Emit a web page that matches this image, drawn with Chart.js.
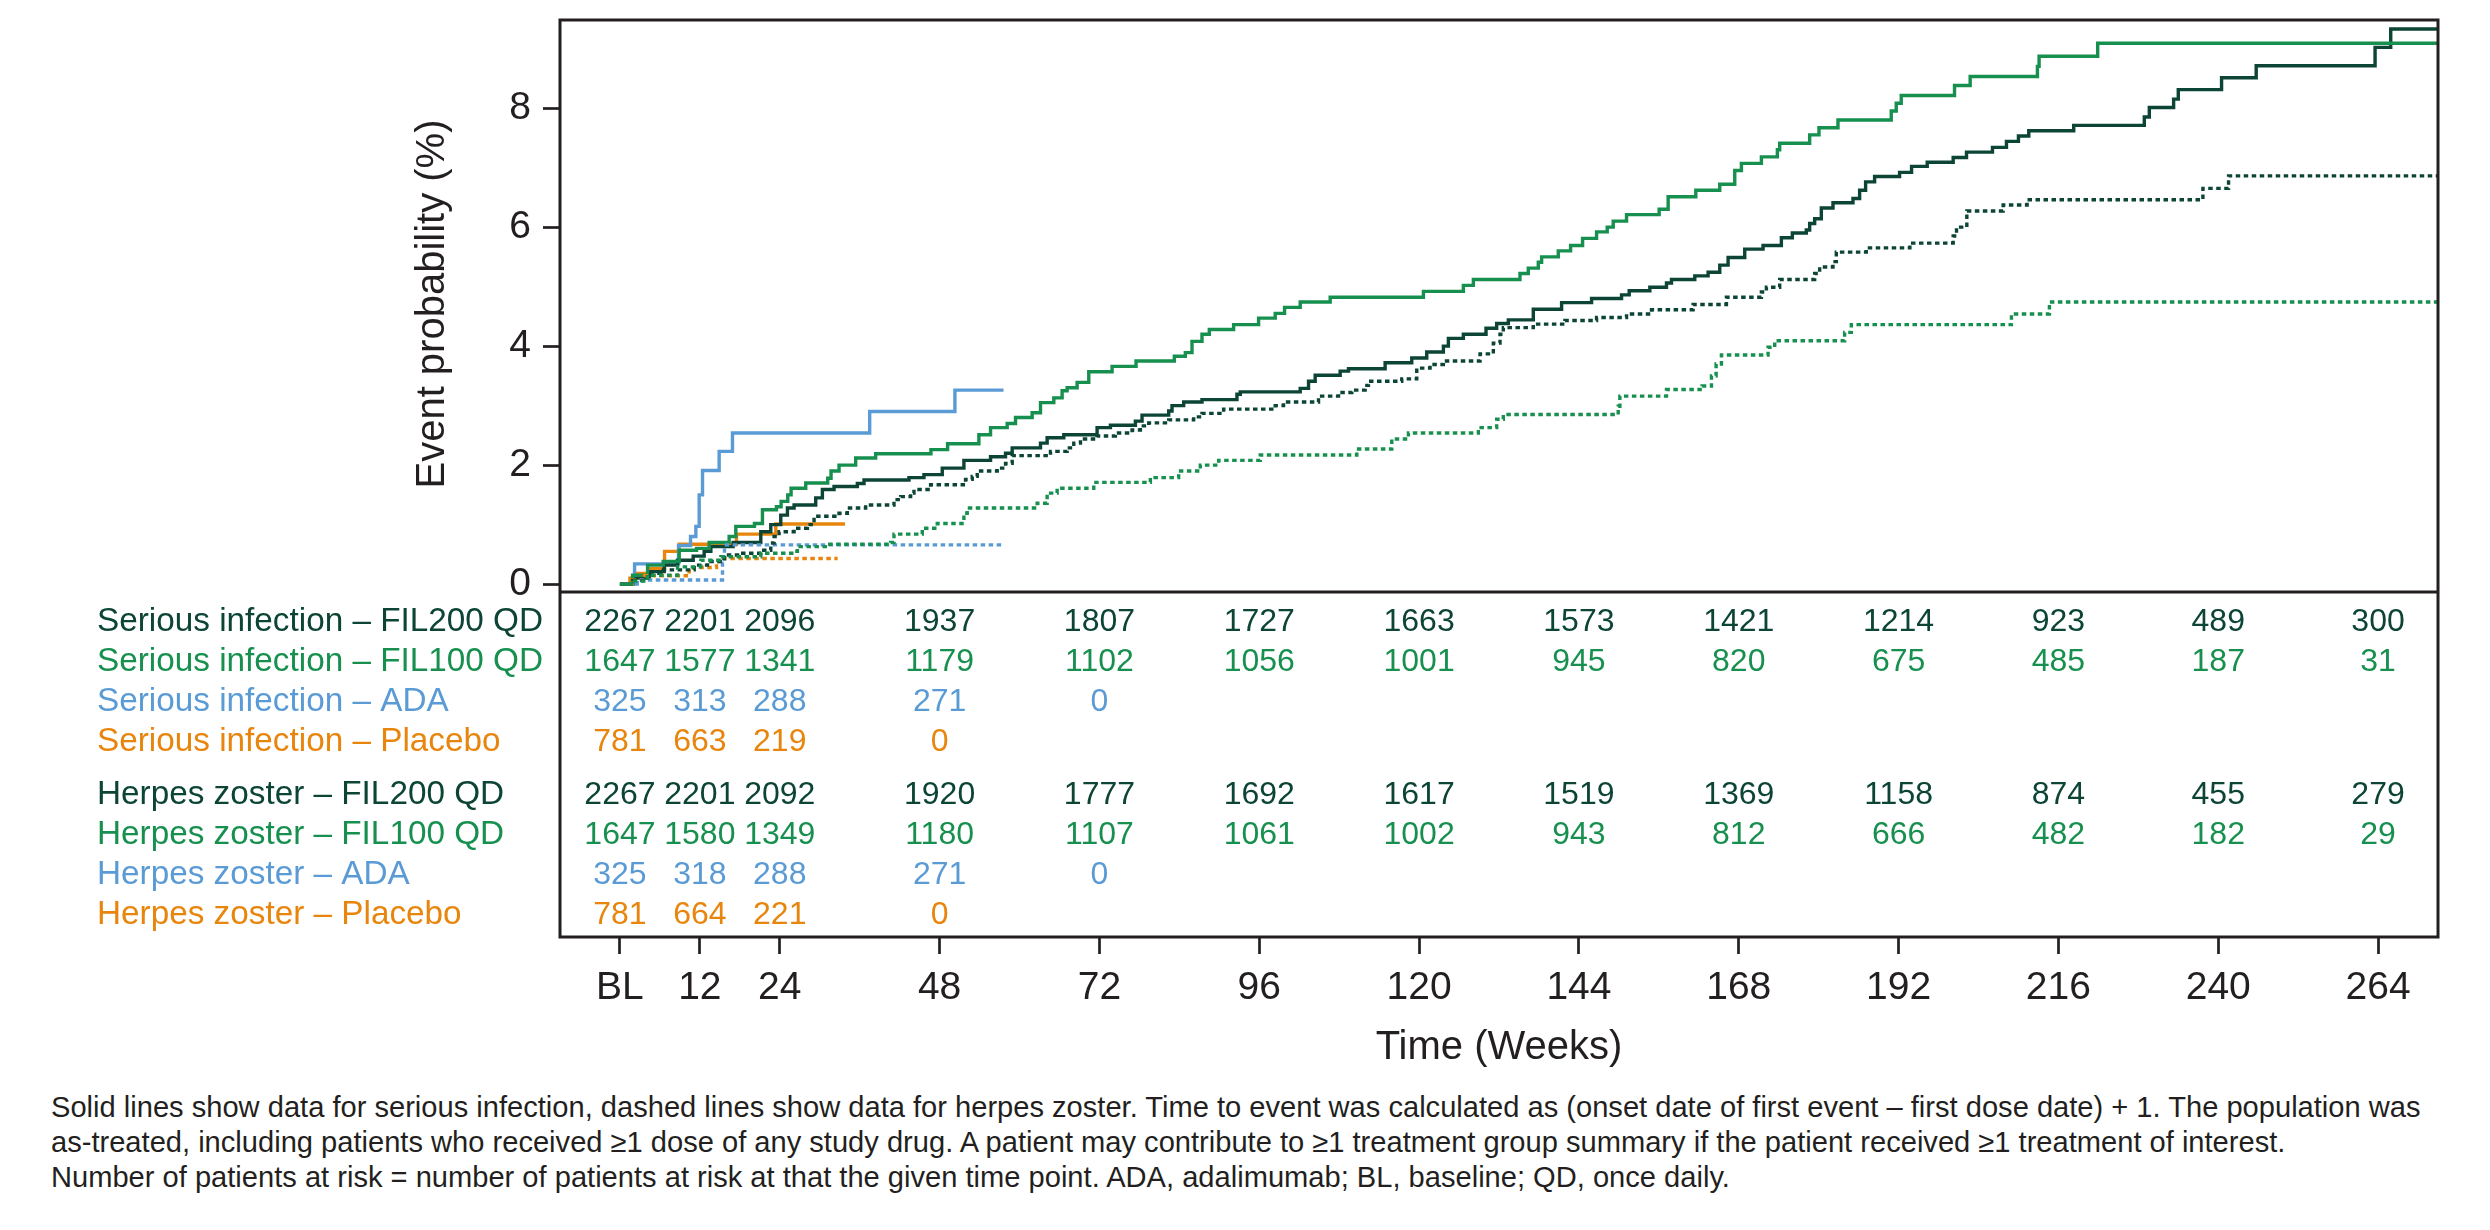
<!DOCTYPE html>
<html lang="en">
<head>
<meta charset="utf-8">
<title>Serious infection and herpes zoster – event probability</title>
<script src="https://cdn.jsdelivr.net/npm/chart.js@4.4.1/dist/chart.umd.min.js"></script>
<style>
  html, body { margin: 0; padding: 0; background: #fff; }
  #wrap { position: relative; width: 2490px; height: 1080px; }
  #footnote {
    font-family: "Liberation Sans", Arial, sans-serif;
    font-size: 29.1px;
    line-height: 35px;
    color: #231f20;
    padding: 10px 0 0 51px;
    white-space: nowrap;
  }
</style>
</head>
<body>
<div id="wrap"><canvas id="kmChart"></canvas></div>
<div id="footnote">
Solid lines show data for serious infection, dashed lines show data for herpes zoster. Time to event was calculated as (onset date of first event – first dose date) + 1. The population was<br>
as-treated, including patients who received ≥1 dose of any study drug. A patient may contribute to ≥1 treatment group summary if the patient received ≥1 treatment of interest.<br>
Number of patients at risk = number of patients at risk at that the given time point. ADA, adalimumab; BL, baseline; QD, once daily.
</div>
<script>
// --- 1. DATA ---
// x-axis ticks (weeks) and their labels
const weekTicks = [0, 12, 24, 48, 72, 96, 120, 144, 168, 192, 216, 240, 264];
const weekTickLabels = ['BL', '12', '24', '48', '72', '96', '120', '144', '168', '192', '216', '240', '264'];
const probTicks = [0, 2, 4, 6, 8];

// Kaplan-Meier curves: [week, event probability %]
const siFil200 = [[0,0],[1.9,0.1],[4.4,0.21],[6.65,0.32],[8.65,0.4],[11,0.47],[12.65,0.55],[13.65,0.63],[17,0.7],[21.15,0.88],[22.65,1.0],[24.15,1.16],[25.15,1.28],[26.15,1.33],[29.4,1.45],[30.4,1.59],[32.15,1.64],[35.65,1.69],[36.65,1.75],[43.4,1.79],[45.65,1.84],[48.4,1.95],[51.65,2.08],[55.65,2.14],[57.9,2.2],[58.9,2.29],[63.15,2.37],[64.15,2.46],[66.65,2.51],[71.65,2.63],[73.65,2.67],[77.4,2.74],[78.4,2.84],[82.4,2.91],[82.9,3.0],[84.65,3.06],[87.4,3.1],[92.65,3.19],[93.15,3.23],[102.15,3.29],[103.4,3.41],[104.4,3.51],[108.15,3.58],[109.4,3.62],[114.9,3.72],[118.9,3.8],[121.15,3.9],[123.65,4.0],[124.4,4.13],[126.65,4.2],[130.05,4.3],[131.65,4.38],[133.4,4.44],[137.15,4.62],[141.4,4.73],[145.9,4.8],[150.4,4.86],[151.55,4.93],[154.65,4.99],[157.15,5.06],[157.9,5.12],[161.4,5.18],[163.4,5.24],[165.15,5.36],[166.4,5.49],[168.9,5.63],[171.65,5.69],[174.4,5.82],[176.05,5.9],[178.15,5.95],[178.65,6.06],[179.4,6.14],[180.4,6.32],[182.15,6.41],[185.15,6.48],[186.15,6.62],[187.05,6.76],[188.4,6.85],[192.15,6.92],[193.95,7.02],[196.3,7.09],[200.2,7.17],[202.2,7.26],[206.1,7.34],[208.2,7.44],[210.0,7.53],[211.55,7.62],[218.3,7.71],[228.9,7.85],[229.65,8.01],[233.3,8.15],[234.0,8.31],[240.5,8.51],[245.7,8.71],[263.55,9.02],[265.9,9.33],[273,9.33]];
const siFil100 = [[0,0],[1.9,0.15],[4.15,0.32],[6.5,0.38],[8.9,0.57],[11.5,0.6],[13.4,0.7],[16.4,0.8],[17.4,0.97],[20.2,1.02],[21.4,1.25],[23.5,1.3],[24.2,1.39],[25.2,1.5],[25.7,1.61],[27.9,1.7],[31.2,1.78],[31.7,1.9],[32.9,2.0],[35.4,2.12],[38.4,2.19],[46.7,2.26],[49.2,2.36],[53.9,2.51],[55.65,2.63],[58.15,2.7],[59.4,2.8],[61.9,2.88],[63.15,3.05],[65.15,3.13],[66.4,3.25],[67.15,3.3],[68.65,3.39],[70.4,3.57],[73.9,3.66],[77.5,3.75],[83.25,3.83],[84.9,3.89],[85.9,4.08],[87.4,4.2],[88.5,4.28],[92.15,4.36],[95.9,4.47],[98.4,4.55],[99.8,4.65],[102.15,4.74],[106.65,4.82],[120.65,4.92],[126.65,5.02],[128.15,5.12],[135.15,5.22],[136.4,5.31],[137.9,5.41],[138.4,5.5],[140.9,5.6],[142.75,5.69],[144.55,5.81],[146.65,5.92],[148.25,6.0],[149.15,6.1],[151.15,6.21],[156.05,6.3],[157.4,6.51],[161.55,6.62],[165.15,6.72],[167.4,6.95],[168.4,7.07],[171.4,7.18],[173.8,7.3],[174.15,7.41],[178.65,7.55],[180.05,7.67],[182.9,7.8],[190.9,7.95],[191.65,8.08],[192.4,8.21],[200.4,8.38],[202.75,8.53],[212.85,8.7],[213.1,8.87],[221.9,9.09],[273,9.09]];
const siAda = [[0,0],[2.2,0.34],[8.8,0.65],[10.6,0.8],[11.4,0.97],[11.9,1.5],[12.4,1.91],[14.9,2.23],[16.9,2.54],[37.5,2.9],[50.3,3.26],[57.6,3.26]];
const siPlacebo = [[0,0],[1.5,0.1],[2.2,0.18],[4.4,0.26],[6.7,0.55],[8.9,0.67],[17.5,0.84],[23.4,1.01],[33.8,1.01]];
const hzFil200 = [[0,0],[1.9,0.06],[4.15,0.18],[6.15,0.24],[11.15,0.32],[13.15,0.38],[15.65,0.49],[18.15,0.52],[21.15,0.57],[22.65,0.69],[23.15,0.8],[23.9,0.88],[26.15,0.94],[28.15,1.0],[29.15,1.14],[32.9,1.19],[34.15,1.28],[36.9,1.33],[41.15,1.42],[42.15,1.47],[43.65,1.53],[44.15,1.59],[46.65,1.67],[51.9,1.76],[52.9,1.81],[53.65,1.9],[56.65,1.95],[57.9,2.03],[58.9,2.16],[64.65,2.23],[67.15,2.29],[68.15,2.37],[69.15,2.44],[71.65,2.49],[74.4,2.54],[76.9,2.59],[78.15,2.66],[79.4,2.71],[82.4,2.76],[86.15,2.81],[87.4,2.87],[90.65,2.94],[98.4,3.0],[99.65,3.06],[104.9,3.16],[107.9,3.22],[109.9,3.26],[111.9,3.34],[112.4,3.41],[117.4,3.45],[119.65,3.63],[121.65,3.69],[123.65,3.75],[129.15,3.87],[131.15,4.05],[132.15,4.2],[132.65,4.31],[137.15,4.37],[141.9,4.43],[146.65,4.48],[151.15,4.54],[154.9,4.61],[161.15,4.7],[166.15,4.82],[171.4,4.91],[172.15,4.99],[174.15,5.12],[179.4,5.22],[180.15,5.33],[182.15,5.42],[182.65,5.58],[187.15,5.65],[193.7,5.73],[200.2,5.85],[200.7,6.0],[202.25,6.27],[207.7,6.37],[211.3,6.46],[237.7,6.65],[241.55,6.86],[273,6.86]];
const hzFil100 = [[0,0],[1.9,0.05],[4.15,0.15],[8.65,0.29],[12.15,0.4],[15.15,0.46],[21.15,0.52],[26.15,0.55],[26.65,0.63],[31.15,0.67],[40.65,0.7],[41.15,0.84],[45.4,0.94],[47.65,1.02],[51.65,1.19],[52.15,1.28],[62.65,1.36],[64.15,1.53],[65.65,1.61],[71.15,1.71],[79.65,1.79],[83.9,1.9],[87.15,2.0],[89.9,2.08],[96.15,2.17],[110.65,2.27],[115.9,2.44],[118.4,2.54],[128.9,2.63],[131.65,2.77],[132.65,2.85],[149.9,2.99],[150.15,3.16],[157.15,3.27],[162.5,3.33],[163.9,3.5],[164.6,3.7],[165.4,3.85],[172.4,3.98],[173.4,4.09],[183.9,4.23],[184.9,4.36],[208.95,4.54],[214.65,4.74],[273,4.74]];
const hzAda = [[0,0],[2.6,0.07],[15.4,0.35],[15.7,0.66],[57.6,0.66]];
const hzPlacebo = [[0,0],[1.8,0.07],[3.7,0.14],[10.4,0.28],[14.5,0.38],[15.6,0.43],[32.7,0.43]];

// patients at risk at each tick
const riskSiFil200 = [2267, 2201, 2096, 1937, 1807, 1727, 1663, 1573, 1421, 1214, 923, 489, 300];
const riskSiFil100 = [1647, 1577, 1341, 1179, 1102, 1056, 1001, 945, 820, 675, 485, 187, 31];
const riskSiAda = [325, 313, 288, 271, 0];
const riskSiPlacebo = [781, 663, 219, 0];
const riskHzFil200 = [2267, 2201, 2092, 1920, 1777, 1692, 1617, 1519, 1369, 1158, 874, 455, 279];
const riskHzFil100 = [1647, 1580, 1349, 1180, 1107, 1061, 1002, 943, 812, 666, 482, 182, 29];
const riskHzAda = [325, 318, 288, 271, 0];
const riskHzPlacebo = [781, 664, 221, 0];

// --- 2. STYLE ---
const INK = '#231f20';
const DARK = '#0c4436';
const GREEN = '#17904f';
const BLUE = '#5b9bd5';
const ORANGE = '#e8850c';
const FONT = '"Liberation Sans", Arial, sans-serif';

// rows of the at-risk table, top to bottom
const groups = [
  { label: 'Serious infection – FIL200 QD', color: DARK, curve: siFil200, risk: riskSiFil200, dotted: false },
  { label: 'Serious infection – FIL100 QD', color: GREEN, curve: siFil100, risk: riskSiFil100, dotted: false },
  { label: 'Serious infection – ADA', color: BLUE, curve: siAda, risk: riskSiAda, dotted: false },
  { label: 'Serious infection – Placebo', color: ORANGE, curve: siPlacebo, risk: riskSiPlacebo, dotted: false },
  { label: 'Herpes zoster – FIL200 QD', color: DARK, curve: hzFil200, risk: riskHzFil200, dotted: true },
  { label: 'Herpes zoster – FIL100 QD', color: GREEN, curve: hzFil100, risk: riskHzFil100, dotted: true },
  { label: 'Herpes zoster – ADA', color: BLUE, curve: hzAda, risk: riskHzAda, dotted: true },
  { label: 'Herpes zoster – Placebo', color: ORANGE, curve: hzPlacebo, risk: riskHzPlacebo, dotted: true }
];

// the y scale runs below 0 so the table sits inside the same frame
const Y_MIN = -5.93;
const Y_MAX = 9.48;
const PLOT_FLOOR = -0.133;

// dotted series first so the solid ones sit on top
const drawOrder = [5, 4, 6, 7, 1, 0, 2, 3];
const datasets = drawOrder.map(i => {
  const g = groups[i];
  return {
    label: g.label,
    data: g.curve.map(([x, y]) => ({ x, y })),
    borderColor: g.color,
    borderWidth: 3.4,
    borderDash: g.dotted ? [4.5, 3.5] : [],
    stepped: 'before',
    pointRadius: 0,
    fill: false
  };
});

// no extra room for half tick labels; the frame is set by layout padding
function fixAxisPadding(scale) {
  scale.paddingTop = 0;
  scale.paddingBottom = 0;
  scale.paddingLeft = 0;
  scale.paddingRight = 0;
}

// --- 3. PLUGIN: frame, titles, at-risk table ---
const tablePlugin = {
  id: 'riskTable',
  afterDraw(chart) {
    const { ctx, chartArea: area } = chart;
    const xs = chart.scales.x;
    const ys = chart.scales.y;
    ctx.save();

    ctx.strokeStyle = INK;
    ctx.lineWidth = 3;
    ctx.strokeRect(area.left, area.top, area.right - area.left, area.bottom - area.top);
    const floorY = ys.getPixelForValue(PLOT_FLOOR);
    ctx.beginPath();
    ctx.moveTo(area.left, floorY);
    ctx.lineTo(area.right, floorY);
    ctx.stroke();

    // axis titles
    ctx.fillStyle = INK;
    ctx.font = '40px ' + FONT;
    ctx.textAlign = 'center';
    ctx.textBaseline = 'middle';
    ctx.save();
    ctx.translate(433, (area.top + floorY) / 2 - 2);
    ctx.rotate(-Math.PI / 2);
    ctx.fillText('Event probability (%)', 0, 0);
    ctx.restore();
    ctx.fillText('Time (Weeks)', (area.left + area.right) / 2, 1048);

    // at-risk rows
    groups.forEach((g, i) => {
      const rowY = floorY + 30 + i * 40 + (i >= 4 ? 13 : 0);
      ctx.fillStyle = g.color;
      ctx.textAlign = 'left';
      ctx.font = '33.3px ' + FONT;
      ctx.fillText(g.label, 97, rowY);
      ctx.textAlign = 'center';
      ctx.font = '32px ' + FONT;
      g.risk.forEach((n, j) => {
        ctx.fillText(String(n), xs.getPixelForValue(weekTicks[j]), rowY);
      });
    });
    ctx.restore();
  }
};

// --- 4. CHART ---
new Chart(document.getElementById('kmChart'), {
  type: 'line',
  data: { datasets },
  options: {
    responsive: true,
    maintainAspectRatio: false,
    animation: false,
    layout: { padding: { left: 0, top: 20, right: 52, bottom: 0 } },
    plugins: { legend: { display: false }, tooltip: { enabled: false } },
    scales: {
      x: {
        type: 'linear',
        min: -9,
        max: 273,
        afterFit: scale => { scale.height = 143; fixAxisPadding(scale); },
        afterBuildTicks: scale => { scale.ticks = weekTicks.map(v => ({ value: v })); },
        grid: { display: true, drawOnChartArea: false, drawTicks: true, tickLength: 17, tickWidth: 2.7, tickColor: INK },
        border: { display: false },
        ticks: {
          autoSkip: false,
          maxRotation: 0,
          padding: 11,
          color: INK,
          font: { family: FONT, size: 39 },
          callback: (value, index) => weekTickLabels[index]
        }
      },
      y: {
        type: 'linear',
        min: Y_MIN,
        max: Y_MAX,
        afterFit: scale => { scale.width = 560; fixAxisPadding(scale); },
        afterBuildTicks: scale => { scale.ticks = probTicks.map(v => ({ value: v })); },
        grid: { display: true, drawOnChartArea: false, drawTicks: true, tickLength: 17, tickWidth: 2.7, tickColor: INK },
        border: { display: false },
        ticks: {
          padding: 12,
          color: INK,
          font: { family: FONT, size: 39 },
          callback: value => String(value)
        }
      }
    }
  },
  plugins: [tablePlugin]
});
</script>
</body>
</html>
